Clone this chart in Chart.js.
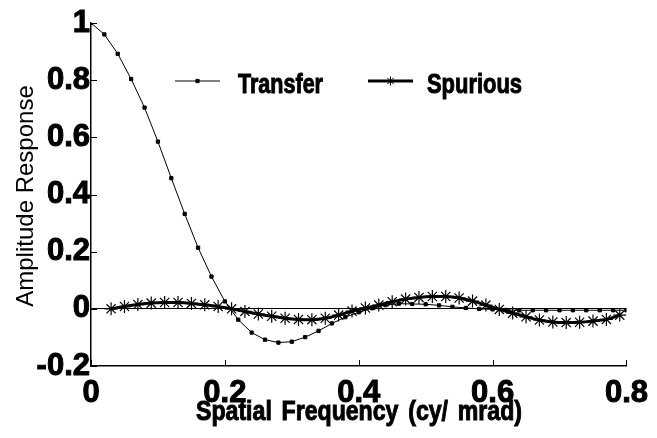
<!DOCTYPE html>
<html>
<head>
<meta charset="utf-8">
<script src="https://cdn.jsdelivr.net/npm/chart.js"></script>
<style>
  body { margin: 0; background: #fff; }
  #wrap { width: 657px; height: 438px; }
</style>
</head>
<body>
<div id="wrap"><canvas id="chart"></canvas></div>
<script>
// spatial frequencies (cy/mrad) of the transfer samples
let transfer_freq = [0, 0.02, 0.04, 0.06, 0.08, 0.10, 0.12, 0.14, 0.16, 0.18,
  0.20, 0.22, 0.24, 0.26, 0.28, 0.30, 0.32, 0.34, 0.36, 0.38,
  0.40, 0.42, 0.44, 0.46, 0.48, 0.50, 0.52, 0.54, 0.56, 0.58,
  0.60, 0.62, 0.64, 0.66, 0.68, 0.70, 0.72, 0.74, 0.76, 0.78, 0.80];
let transfer_values = [1.0, 0.96, 0.892, 0.804, 0.704, 0.585, 0.457, 0.332, 0.214, 0.113,
  0.026, -0.038, -0.083, -0.108, -0.118, -0.115, -0.099, -0.077, -0.051, -0.029,
  -0.012, 0.002, 0.013, 0.018, 0.017, 0.016, 0.012, 0.007, 0.003, 0.0,
  -0.002, -0.004, -0.005, -0.005, -0.005, -0.005, -0.005, -0.005, -0.005, -0.005, -0.005];

// spurious response is sampled in between
let spurious_freq = [0.03, 0.05, 0.07, 0.09, 0.11, 0.13, 0.15, 0.17, 0.19,
  0.21, 0.23, 0.25, 0.27, 0.29, 0.31, 0.33, 0.35, 0.37, 0.39,
  0.41, 0.43, 0.45, 0.47, 0.49, 0.51, 0.53, 0.55, 0.57, 0.59,
  0.61, 0.63, 0.65, 0.67, 0.69, 0.71, 0.73, 0.75, 0.77, 0.79];
let spurious_values = [0.0, 0.008, 0.015, 0.02, 0.022, 0.022, 0.019, 0.014, 0.008,
  0.0, -0.009, -0.018, -0.026, -0.033, -0.037, -0.038, -0.033, -0.022, -0.008,
  0.003, 0.013, 0.025, 0.034, 0.040, 0.043, 0.043, 0.038, 0.027, 0.013,
  -0.002, -0.015, -0.028, -0.039, -0.046, -0.048, -0.047, -0.043, -0.037, -0.022];

let series_names = ['Transfer', 'Spurious'];
let x_title = 'Spatial Frequency (cy/ mrad)';
let y_title = 'Amplitude Response';

function toPoints(xs, ys) {
  // pairs the x and y arrays for a linear x scale
  return xs.map((x, i) => ({ x: x, y: ys[i] }));
}

const FONT = '"Liberation Sans", Arial, sans-serif';
const NARROW = '"Liberation Sans Narrow", "Liberation Sans", Arial, sans-serif';

function squeezedText(ctx, text, x, y, width) {
  // draws bold text squeezed horizontally to a given width, left aligned
  let w = ctx.measureText(text).width;
  ctx.save();
  ctx.translate(x, y);
  ctx.scale(width / w, 1);
  ctx.textAlign = 'left';
  ctx.lineWidth = 1;
  ctx.strokeStyle = '#000';
  ctx.fillText(text, 0, 0);
  ctx.strokeText(text, 0, 0);
  ctx.restore();
}

// draws inward ticks, axis titles and the in-plot legend
const extrasPlugin = {
  id: 'extras',
  afterDraw(chart) {
    let ctx = chart.ctx;
    let xs = chart.scales.x;
    let ys = chart.scales.y;
    ctx.save();
    ctx.strokeStyle = '#000';
    ctx.lineWidth = 1;
    ys.ticks.forEach(t => {
      let py = Math.round(ys.getPixelForValue(t.value)) + 0.5;
      ctx.beginPath(); ctx.moveTo(xs.left, py); ctx.lineTo(xs.left + 6, py); ctx.stroke();
    });
    xs.ticks.forEach(t => {
      let px = Math.round(xs.getPixelForValue(t.value)) + 0.5;
      ctx.beginPath(); ctx.moveTo(px, ys.bottom); ctx.lineTo(px, ys.bottom - 6); ctx.stroke();
    });

    // x title, bold and squeezed
    ctx.fillStyle = '#000';
    ctx.font = 'bold 28px ' + FONT;
    ctx.wordSpacing = '4px';
    ctx.textBaseline = 'alphabetic';
    squeezedText(ctx, x_title, 196, 420, 326);
    ctx.wordSpacing = '0px';

    // y title, normal weight
    ctx.save();
    ctx.font = '24px ' + FONT;
    ctx.translate(26, 196);
    ctx.rotate(-Math.PI / 2);
    ctx.textAlign = 'center';
    ctx.textBaseline = 'middle';
    ctx.fillText(y_title, 0, 0);
    ctx.restore();

    // legend
    let items = [
      { ds: chart.data.datasets[0], x1: 175, x2: 220, tx: 238, tw: 85 },
      { ds: chart.data.datasets[1], x1: 368, x2: 413, tx: 427, tw: 95 }
    ];
    let ly = 81;
    items.forEach(it => {
      ctx.strokeStyle = '#000';
      ctx.lineWidth = it.ds.borderWidth;
      ctx.beginPath(); ctx.moveTo(it.x1, ly); ctx.lineTo(it.x2, ly); ctx.stroke();
      ctx.lineWidth = 1;
      ctx.fillStyle = '#000';
      Chart.helpers.drawPoint(ctx, {
        pointStyle: it.ds.pointStyle, radius: it.ds.pointStyle === 'star' ? 4.5 : it.ds.pointRadius,
        rotation: 0, borderWidth: 1
      }, (it.x1 + it.x2) / 2, ly);
      ctx.font = 'bold 28px ' + FONT;
      ctx.textBaseline = 'alphabetic';
      squeezedText(ctx, it.ds.label, it.tx, ly + 12, it.tw);
    });
    ctx.restore();
  }
};

let ctx = document.getElementById('chart').getContext('2d');
window.myChart = new Chart(ctx, {
  type: 'line',
  data: {
    datasets: [{
      label: series_names[0],
      data: toPoints(transfer_freq, transfer_values),
      borderColor: '#000',
      backgroundColor: '#000',
      borderWidth: 1,
      pointStyle: 'rect',
      pointRadius: 2.3,
      pointBorderWidth: 1,
      tension: 0,
      order: 1
    }, {
      label: series_names[1],
      data: toPoints(spurious_freq, spurious_values),
      borderColor: '#000',
      backgroundColor: '#000',
      borderWidth: 3,
      pointStyle: 'star',
      pointRadius: 6.5,
      pointBorderWidth: 1.2,
      tension: 0.3,
      order: 0
    }]
  },
  options: {
    responsive: true,
    maintainAspectRatio: false,
    animation: false,
    layout: { padding: { top: 23, right: 29, left: 0, bottom: 0 } },
    plugins: {
      legend: { display: false },
      tooltip: { enabled: false }
    },
    scales: {
      x: {
        type: 'linear',
        min: 0,
        max: 0.8,
        ticks: {
          stepSize: 0.2,
          padding: 9,
          color: '#000',
          textStrokeColor: '#000',
          textStrokeWidth: 1,
          font: { family: NARROW, size: 31, weight: 'bold' },
          callback: v => String(Number(v.toFixed(1)))
        },
        grid: { display: false, drawTicks: false },
        border: { display: true, color: '#000', width: 1.5 },
        afterFit: scale => { scale.height = 72; }
      },
      y: {
        min: -0.2,
        max: 1,
        ticks: {
          stepSize: 0.2,
          padding: 1,
          color: '#000',
          textStrokeColor: '#000',
          textStrokeWidth: 1,
          font: { family: NARROW, size: 31, weight: 'bold' },
          callback: v => String(Number(v.toFixed(1)))
        },
        grid: {
          drawTicks: false,
          color: c => (c.tick && Math.abs(c.tick.value) < 1e-9) ? '#000' : 'rgba(0,0,0,0)',
          lineWidth: 1
        },
        border: { display: true, color: '#000', width: 1.5 },
        afterFit: scale => { scale.width = 91; }
      }
    }
  },
  plugins: [extrasPlugin]
});
</script>
</body>
</html>
